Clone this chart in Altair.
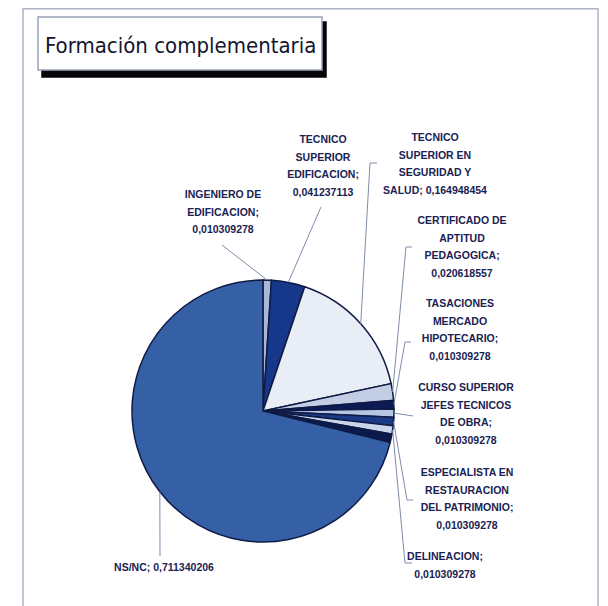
import altair as alt
import pandas as pd
import numpy as np

# ---- data (clockwise from 12 o'clock) ----
categories = [
    "INGENIERO DE EDIFICACION",
    "TECNICO SUPERIOR EDIFICACION",
    "TECNICO SUPERIOR EN SEGURIDAD Y SALUD",
    "CERTIFICADO DE APTITUD PEDAGOGICA",
    "TASACIONES MERCADO HIPOTECARIO",
    "CURSO SUPERIOR JEFES TECNICOS DE OBRA",
    "ESPECIALISTA EN RESTAURACION DEL PATRIMONIO",
    "DELINEACION",
    "OTROS",
    "NS/NC",
]
values = [0.010309278, 0.041237113, 0.164948454, 0.020618557, 0.010309278,
          0.010309278, 0.010309278, 0.010309278, 0.010309278, 0.711340206]
colors = ["#a7b7d8", "#17378a", "#e9edf5", "#c3cee5", "#0c1a55",
          "#b6c5e2", "#1b3b86", "#c9d5ea", "#0b1a4c", "#3560a5"]

label_text = [
    "INGENIERO DE\nEDIFICACION;\n0,010309278",
    "TECNICO\nSUPERIOR\nEDIFICACION;\n0,041237113",
    "TECNICO\nSUPERIOR EN\nSEGURIDAD Y\nSALUD; 0,164948454",
    "CERTIFICADO DE\nAPTITUD\nPEDAGOGICA;\n0,020618557",
    "TASACIONES\nMERCADO\nHIPOTECARIO;\n0,010309278",
    "CURSO SUPERIOR\nJEFES TECNICOS\nDE OBRA;\n0,010309278",
    "ESPECIALISTA EN\nRESTAURACION\nDEL PATRIMONIO;\n0,010309278",
    "DELINEACION;\n0,010309278",
    "",
    "NS/NC; 0,711340206",
]

# ---- layout (page pixel coordinates; first-line centre of each label) ----
OFF = 8
CX, CY, R = 263 - OFF, 411 - OFF, 131
label_pos = [(223, 195), (323, 140), (435, 138), (462, 221), (460, 304),
             (466, 388), (467, 473), (445, 557), None, (164, 568)]
leader_end = [(222, 245), (321, 207), (370, 163), (406, 247), (405, 342),
              (413, 416), (407, 500), (405, 563), None, (160, 556)]
tick_len = [0, 0, 7, 6, 6, 0, 6, 7, 0, 0]

df = pd.DataFrame({"cat": categories, "value": values, "idx": range(len(values))})

# leader start points derived from slice mid-angles
cum = np.cumsum(values)
mid = (cum - np.array(values) / 2) * 2 * np.pi

lab_rows, seg_rows = [], []
for i, t in enumerate(label_text):
    if label_pos[i] is None:
        continue
    lx, ly = label_pos[i]
    lab_rows.append({"t": t, "x": lx - OFF, "y": ly - OFF})
    sx = CX + R * np.sin(mid[i])
    sy = CY - R * np.cos(mid[i])
    ex, ey = leader_end[i]
    seg_rows.append({"x": sx, "y": sy, "x2": ex - OFF, "y2": ey - OFF})
    if tick_len[i]:
        seg_rows.append({"x": ex - OFF, "y": ey - OFF, "x2": ex - OFF + tick_len[i], "y2": ey - OFF})
lab_df = pd.DataFrame(lab_rows)
seg_df = pd.DataFrame(seg_rows)

W, H = 592, 598

boxes = pd.DataFrame({
    "x": [23 - OFF, 42 - OFF, 38 - OFF],
    "x2": [598 - OFF, 326 - OFF, 322 - OFF],
    "y": [0.75, 22 - OFF, 17 - OFF],
    "y2": [640, 77 - OFF, 70 - OFF],
    "fill": ["#ffffff", "#05050a", "#ffffff"],
    "stroke": ["#adb3c6", "#05050a", "#9aa3b8"],
    "k": [0, 1, 2],
})
rects = alt.Chart(boxes).mark_rect(strokeWidth=1.5).encode(
    x=alt.X("x:Q", scale=None, axis=None), x2="x2:Q",
    y=alt.Y("y:Q", scale=None, axis=None), y2="y2:Q",
    fill=alt.Fill("fill:N", scale=None),
    stroke=alt.Stroke("stroke:N", scale=None),
    order=alt.Order("k:Q"),
)

title = alt.Chart(pd.DataFrame({"t": ["Formación complementaria"]})).mark_text(
    align="left", baseline="alphabetic", font="DejaVu Sans Condensed, DejaVu Sans",
    fontSize=22, color="#15152e"
).encode(text="t:N", x=alt.value(45 - OFF), y=alt.value(53 - OFF))

pie = alt.Chart(df).mark_arc(radius=R, stroke="#0f1b45", strokeWidth=1.5).encode(
    theta=alt.Theta("value:Q", stack=True),
    order=alt.Order("idx:Q"),
    color=alt.Color("cat:N", scale=alt.Scale(domain=categories, range=colors), legend=None),
    x=alt.value(CX), y=alt.value(CY),
)

leaders = alt.Chart(seg_df).mark_rule(color="#7f8cab", strokeWidth=1).encode(
    x=alt.X("x:Q", scale=None, axis=None), y=alt.Y("y:Q", scale=None, axis=None),
    x2="x2:Q", y2="y2:Q",
)

labels = alt.Chart(lab_df).mark_text(
    align="center", baseline="middle", lineBreak="\n", lineHeight=17.7,
    font="Liberation Sans", fontSize=10.5, fontWeight="bold",
    color="#1a2252",
).encode(
    x=alt.X("x:Q", scale=None, axis=None), y=alt.Y("y:Q", scale=None, axis=None), text="t:N"
)

chart = alt.layer(rects, title, pie, leaders, labels).properties(
    width=W, height=H, padding=0, autosize=alt.AutoSizeParams(type="none")
).configure_view(stroke=None)

chart.save("out.html", embed_options={"renderer": "svg", "actions": False})
